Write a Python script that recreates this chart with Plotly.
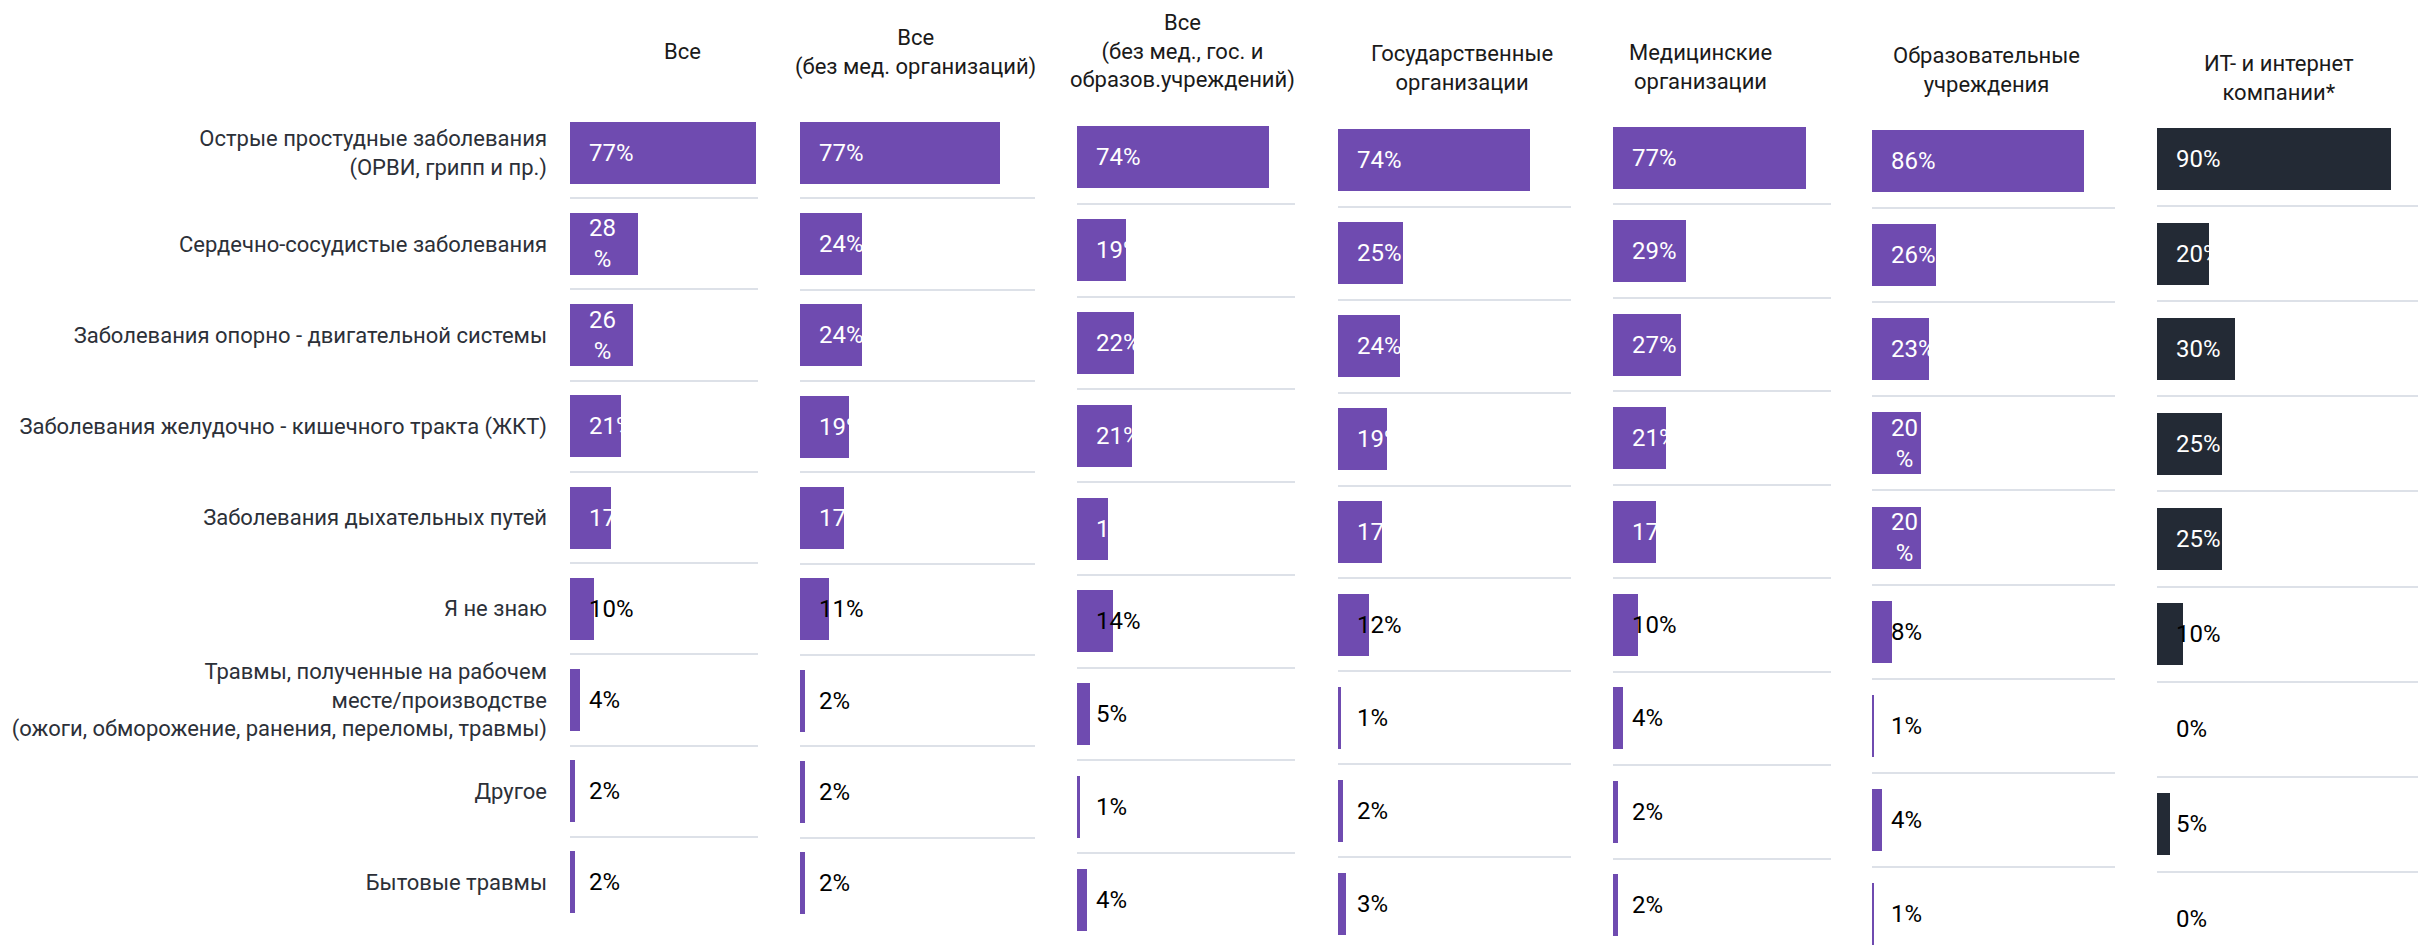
import plotly.graph_objects as go

W, H = 2430, 946

categories = [
    "Острые простудные заболевания<br>(ОРВИ, грипп и пр.)",
    "Сердечно-сосудистые заболевания",
    "Заболевания опорно - двигательной системы",
    "Заболевания желудочно - кишечного тракта (ЖКТ)",
    "Заболевания дыхательных путей",
    "Я не знаю",
    "Травмы, полученные на рабочем<br>месте/производстве<br>(ожоги, обморожение, ранения, переломы, травмы)",
    "Другое",
    "Бытовые травмы",
]

group_titles = [
    "Все",
    "Все<br>(без мед. организаций)",
    "Все<br>(без мед., гос. и<br>образов.учреждений)",
    "Государственные<br>организации",
    "Медицинские<br>организации",
    "Образовательные<br>учреждения",
    "ИТ- и интернет<br>компании*",
]

vals_all = [77, 28, 26, 21, 17, 10, 4, 2, 2]
vals_no_med = [77, 24, 24, 19, 17, 11, 2, 2, 2]
vals_no_med_gov_edu = [74, 19, 22, 21, 12, 14, 5, 1, 4]
vals_gov = [74, 25, 24, 19, 17, 12, 1, 2, 3]
vals_med = [77, 29, 27, 21, 17, 10, 4, 2, 2]
vals_edu = [86, 26, 23, 20, 20, 8, 1, 4, 1]
vals_it = [90, 20, 30, 25, 25, 10, 0, 5, 0]

series = [vals_all, vals_no_med, vals_no_med_gov_edu, vals_gov, vals_med, vals_edu, vals_it]

# labels drawn in white (inside the bar) for the first rows, black below
white_rows = 5
# labels that the original wraps onto two lines: (panel, row)
wrapped = {(0, 1), (0, 2), (5, 3), (5, 4)}

PURPLE = "#6f4bb0"
DARK = "#232a35"
GRID = "#dde1e8"
FONT = "Roboto"

# panel geometry in pixels: left, right, top grid, bottom grid, x max, title x, title y
panels = [
    (570, 758, 107, 928, 77.8, 682, 52),
    (800, 1035, 107, 929, 90.5, 915, 53),
    (1077, 1295, 111, 946, 84.0, 1182, 52),
    (1338, 1571, 114, 950, 89.8, 1462, 68),
    (1613, 1831, 111, 952, 87.0, 1700, 67),
    (1872, 2115, 114, 961, 98.6, 1986, 70),
    (2157, 2418, 111, 967, 100.4, 2279, 78),
]

fig = go.Figure()
annotations = []
n = len(categories)

for i, (vals, geo) in enumerate(zip(series, panels)):
    left, right, top, bottom, xmax, tx, ty = geo
    k = "" if i == 0 else str(i + 1)
    step = (bottom - top) / n
    vis_bottom = min(bottom, H)
    y_low = -0.5 + (vis_bottom - top) / step

    color = DARK if i == len(series) - 1 else PURPLE
    fig.add_trace(go.Bar(
        x=vals, y=categories, orientation="h",
        marker=dict(color=color, line=dict(width=0)),
        width=62 / step,
        xaxis="x" + k, yaxis="y" + k,
        showlegend=False, hoverinfo="skip",
    ))

    fig.layout["xaxis" + k] = dict(
        domain=[left / W, right / W], range=[0, xmax],
        showgrid=False, zeroline=False, showticklabels=False,
        anchor="y" + k, fixedrange=True,
    )
    fig.layout["yaxis" + k] = dict(
        domain=[1 - vis_bottom / H, 1 - top / H],
        type="category", categoryorder="array", categoryarray=categories,
        range=[y_low, -0.5], tickson="boundaries",
        showgrid=True, gridcolor=GRID, gridwidth=2,
        zeroline=False, ticks="", showticklabels=(i == 0),
        ticklabelstandoff=22,
        tickfont=dict(family=FONT, size=22, color="#2c3038"),
        anchor="x" + k, fixedrange=True,
    )

    for r, v in enumerate(vals):
        txt = f"{v}<br>%" if (i, r) in wrapped else f"{v}%"
        annotations.append(dict(
            x=0, y=categories[r], xref="x" + k, yref="y" + k,
            text=txt, showarrow=False, xanchor="left", xshift=17,
            font=dict(family=FONT, size=24,
                      color="#ffffff" if r < white_rows else "#000000"),
        ))

    annotations.append(dict(
        x=tx / W, y=1 - ty / H, xref="paper", yref="paper",
        text=group_titles[i], showarrow=False,
        xanchor="center", yanchor="middle", align="center",
        font=dict(family=FONT, size=22, color="#1a1a1a"),
    ))

fig.update_layout(
    width=W, height=H,
    margin=dict(l=0, r=0, t=0, b=0),
    paper_bgcolor="white", plot_bgcolor="white",
    annotations=annotations,
    bargap=0,
)

fig.write_html(
    "out.html",
    config={"displayModeBar": False},
    post_script="document.body.style.margin='0';document.body.style.overflow='hidden';",
)
